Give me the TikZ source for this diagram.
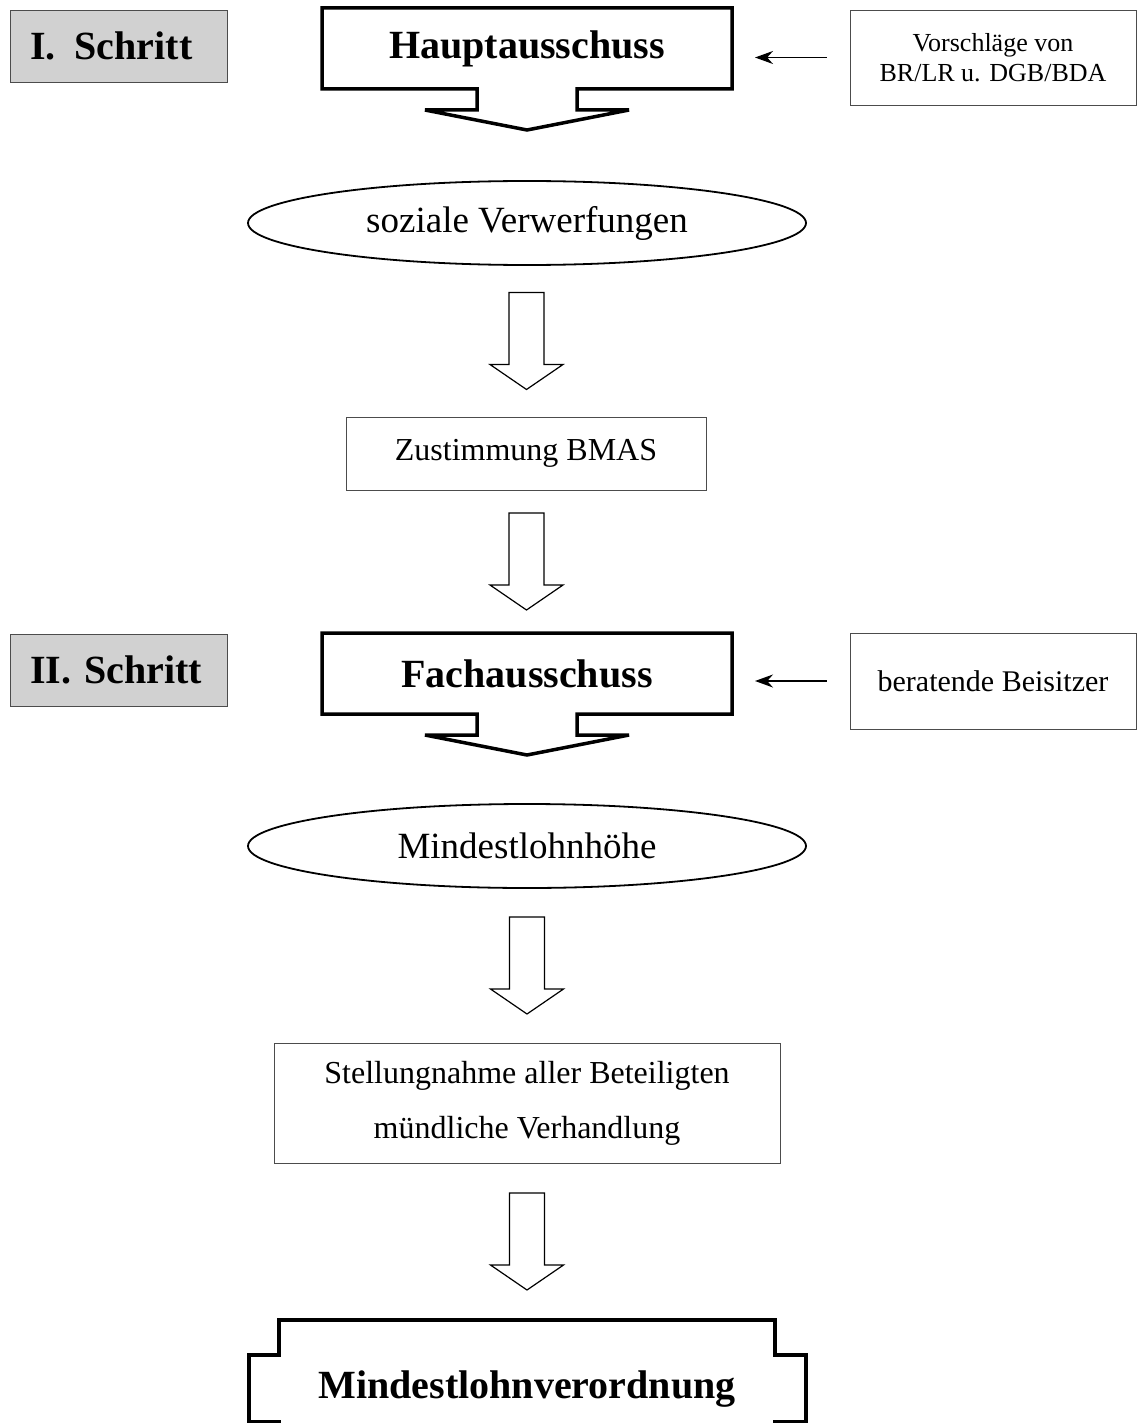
\documentclass[tikz,border=0pt]{standalone}
\usepackage{fontspec}
\setmainfont{Liberation Serif}
\usetikzlibrary{shapes.geometric, arrows.meta, positioning, calc}

\begin{document}
\begin{tikzpicture}[
  x=1pt, y=-1pt,
  schritt/.style={rectangle, draw=black!70, fill=black!18, line width=0.8pt,
    minimum width=217pt, minimum height=72pt, text width=177pt,
    inner xsep=20pt, align=left, font=\fontsize{40}{44}\selectfont\bfseries},
  titel/.style={rectangle, outer sep=0pt, minimum width=410pt,
    minimum height=81pt, font=\fontsize{40}{44}\selectfont\bfseries},
  rahmen/.style={line width=3.5pt, line join=miter},
  oval/.style={ellipse, draw, line width=1.8pt, outer sep=0pt,
    minimum width=558pt, minimum height=84pt, font=\fontsize{37}{42}\selectfont},
  kasten/.style={rectangle, draw=black!70, line width=0.8pt, outer sep=0pt,
    align=center, font=\fontsize{32}{55}\selectfont},
  hinweis/.style={rectangle, draw=black!70, line width=0.8pt, align=center,
    minimum width=286pt, font=\fontsize{26}{30}\selectfont},
  pfeil/.style={-{Stealth[length=18pt, width=13pt]}, line width=1.6pt,
    shorten <=23pt, shorten >=23pt},
  hohlpfeil/.pic={\draw[line width=1.2pt, line join=miter]
    (-17.5,-48.5) -- (-17.5,23.5) -- (-36.5,23.5) -- (0,48.5)
    -- (36.5,23.5) -- (17.5,23.5) -- (17.5,-48.5) -- cycle;}
]
  \useasboundingbox (0,0) rectangle (1137,1423);
  \clip (0,0) rectangle (1137,1423);

  % Schritte links
  \node[schritt] (schritt1) at (118.5,46) {I.\hspace{0.48em}Schritt};
  \node[schritt] (schritt2) at (118.5,670) {II. Schritt};

  % Hauptspalte
  \node[titel] (haupt) at (527,48.5) {Hauptausschuss};
  \node[oval] (sozial) at (527,223) {soziale Verwerfungen};
  \node[kasten, minimum width=360pt, minimum height=73pt] (bmas)
    at (526,453.5) {Zustimmung BMAS};
  \node[titel] (fach) at (527,673.5) {Fachausschuss};
  \node[oval] (hoehe) at (527,846) {Mindestlohnhöhe};
  \node[kasten, minimum width=506pt, minimum height=120pt] (stellung)
    at (527,1103) {Stellungnahme aller Beteiligten\\mündliche Verhandlung};
  \node[titel, minimum width=496pt, minimum height=138pt] (verordnung)
    at (527,1389) {Mindestlohnverordnung};

  % Hinweise rechts
  \node[hinweis, minimum height=95pt] (vorschlag) at (993,57.5)
    {Vorschläge von\\BR/LR u. DGB/BDA};
  \node[hinweis, minimum height=96pt, font=\fontsize{30}{34}\selectfont]
    (beisitzer) at (993,681) {beratende Beisitzer};

  % Ausschuesse mit Pfeilfuss
  \foreach \n in {haupt, fach}
    \draw[rahmen] ($(\n.south)+(-50,0)$) -- (\n.south west) -- (\n.north west)
      -- (\n.north east) -- (\n.south east) -- ($(\n.south)+(50,0)$)
      -- ++(0,21) -- ++(52,0) -- ($(\n.south)+(0,41)$)
      -- ($(\n.south)+(-102,21)$) -- ($(\n.south)+(-50,21)$) -- cycle;

  % Verordnung
  \draw[rahmen] ($(verordnung.north west)+(0,145)$) -- ++(0,-43) -- ++(-30,0)
    -- ++(0,-67) -- ++(30,0) -- (verordnung.north west)
    -- (verordnung.north east) -- ++(0,35) -- ++(31,0) -- ++(0,67)
    -- ++(-31,0) -- ++(0,43);

  % Blockpfeile
  \foreach \a/\b in {sozial/bmas, bmas/fach, hoehe/stellung, stellung/verordnung}
    \pic at ($(\a.south)!.5!(\b.north)$) {hohlpfeil};

  \draw[pfeil] (vorschlag.west) -- (vorschlag.west -| haupt.east);
  \draw[pfeil] (beisitzer.west) -- (beisitzer.west -| fach.east);
\end{tikzpicture}
\end{document}
